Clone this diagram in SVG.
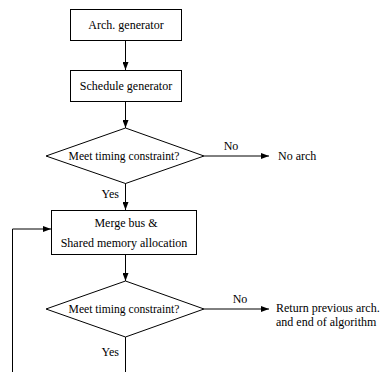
<svg xmlns="http://www.w3.org/2000/svg" width="382" height="372" viewBox="0 0 382 372">
<defs>
<style>
.box{fill:#fff;stroke:#000;stroke-width:1}
.t{font-family:"Liberation Serif","Times New Roman",serif;font-size:12px;fill:#000}
.d{font-family:"Liberation Serif","Times New Roman",serif;font-size:11.6px;fill:#000}
.c{text-anchor:middle}
.ln{fill:none;stroke:#000;stroke-width:1}
</style>
<marker id="ah" viewBox="0 0 8 6" refX="8" refY="3" markerWidth="8" markerHeight="6" markerUnits="userSpaceOnUse" orient="auto">
<path d="M0,0 L8,3 L0,6 z" fill="#000"/>
</marker>
</defs>
<rect width="382" height="372" fill="#fff"/>
<g id="connectors">
<line class="ln" x1="125.5" y1="40" x2="125.5" y2="70" marker-end="url(#ah)"/>
<line class="ln" x1="125.5" y1="101" x2="125.5" y2="128" marker-end="url(#ah)"/>
<line class="ln" x1="204" y1="156" x2="269" y2="156" marker-end="url(#ah)"/>
<line class="ln" x1="125.5" y1="183" x2="125.5" y2="210" marker-end="url(#ah)"/>
<line class="ln" x1="125.5" y1="254" x2="125.5" y2="281" marker-end="url(#ah)"/>
<line class="ln" x1="204" y1="309" x2="269" y2="309" marker-end="url(#ah)"/>
<line class="ln" x1="125.5" y1="337" x2="125.5" y2="372"/>
<polyline class="ln" points="12.5,372 12.5,229 51,229" marker-end="url(#ah)"/>
<text class="t c" x="231" y="150">No</text>
<text class="t" x="119" y="198" text-anchor="end">Yes</text>
<text class="t c" x="240" y="303">No</text>
<text class="t" x="119" y="356" text-anchor="end">Yes</text>
</g>
<g id="arch-generator">
<rect class="box" x="70.5" y="9.5" width="111" height="31"/>
<text class="t c" x="126" y="29">Arch. generator</text>
</g>
<g id="schedule-generator">
<rect class="box" x="70.5" y="70.5" width="111" height="31"/>
<text class="t c" x="126" y="90">Schedule generator</text>
</g>
<g id="timing-check-1">
<polygon class="box" points="125.5,128 204,156 125.5,183.5 46,156"/>
<text class="d c" x="124" y="160">Meet timing constraint?</text>
</g>
<g id="no-arch">
<text class="t" x="278" y="160">No arch</text>
</g>
<g id="merge-bus">
<rect class="box" x="51.5" y="210.5" width="145" height="44"/>
<text class="t c" x="126" y="227">Merge bus &amp;</text>
<text class="t c" x="124" y="247">Shared memory allocation</text>
</g>
<g id="timing-check-2">
<polygon class="box" points="125.5,281 204,309 125.5,337 46,309"/>
<text class="d c" x="124" y="313">Meet timing constraint?</text>
</g>
<g id="return-previous">
<text class="t" x="276" y="312">Return previous arch.</text>
<text class="t" x="276" y="326">and end of algorithm</text>
</g>
</svg>
